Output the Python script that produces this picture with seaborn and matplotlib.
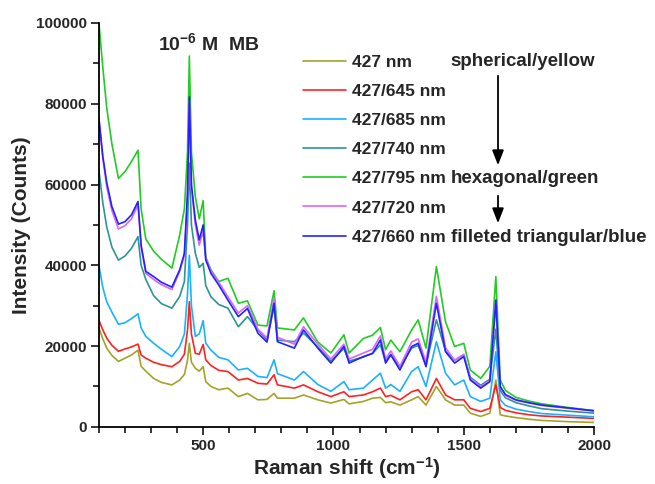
import numpy as np
import pandas as pd
import matplotlib
matplotlib.use('Agg')
import matplotlib.pyplot as plt
import seaborn as sns

# Raman shift positions (cm-1)
shift = [100, 115, 130, 150, 175, 200, 225, 250, 262, 280, 310, 340, 380, 410, 428,
         440, 447, 455, 470, 485, 500, 510, 530, 560, 595, 635, 670, 710, 745, 772,
         785, 850, 885, 940, 990, 1040, 1060, 1115, 1150, 1180, 1200, 1220, 1255, 1300,
         1325, 1355, 1395, 1430, 1465, 1500, 1525, 1565, 1600, 1623, 1640, 1660, 1700,
         1750, 1800, 1900, 2000]

# intensities (counts) for each sample
i_427 = [24500, 21800, 19500, 17700, 16200, 17000, 17800, 19000, 15000, 13800, 12000, 11000,
         10400, 11600, 13000, 16500, 20700, 16000, 14500, 13800, 14900, 11200, 10000, 9200,
         9600, 7500, 8300, 6700, 6800, 8300, 7100, 7100, 7900, 6700, 5900, 6800, 5700, 6300,
         7100, 7300, 6000, 6200, 5400, 6700, 7500, 5400, 10000, 6700, 5400, 5400, 3400, 2600,
         3400, 11600, 3000, 2700, 2300, 1900, 1600, 1300, 1100]
i_645 = [26400, 24000, 22000, 20200, 18700, 19300, 19800, 20500, 17800, 17000, 16000, 15400,
         14900, 16200, 18000, 24000, 31000, 23000, 18200, 18000, 20400, 16600, 15200, 14000,
         13700, 11600, 12000, 10800, 10600, 12900, 10400, 9600, 10400, 8700, 7500, 8700, 7500,
         7900, 8700, 9600, 7500, 7800, 6700, 8700, 9200, 6700, 12000, 7900, 6700, 6700, 4600,
         3800, 4600, 10400, 4800, 4100, 3500, 3000, 2700, 2400, 2100]
i_685 = [40000, 34500, 31000, 28400, 25400, 25800, 26800, 28000, 24500, 22400, 20700, 19200,
         17400, 19900, 23000, 33000, 42500, 30000, 22400, 23000, 26300, 20700, 19000, 17200,
         16600, 14100, 14500, 12500, 12200, 16600, 13200, 11600, 13700, 10500, 8800, 11200,
         9200, 9600, 11600, 13300, 9600, 10500, 8800, 13700, 14900, 10000, 21100, 13300, 10400,
         11600, 7500, 6300, 7100, 18600, 6700, 5300, 4400, 3800, 3300, 2900, 2500]
i_740 = [63600, 55500, 49500, 44500, 41300, 42300, 44200, 47100, 40000, 36500, 32500, 30500,
         29400, 32300, 36000, 50000, 65300, 50000, 43000, 39500, 40500, 35000, 32200, 30300,
         29400, 24800, 27300, 24000, 21500, 29800, 21500, 21100, 23200, 19800, 16300, 19400,
         16300, 17300, 18200, 20300, 16300, 18000, 14800, 19500, 20200, 15300, 26500, 18800,
         16500, 17800, 12300, 10300, 11800, 24200, 9000, 7200, 6000, 5200, 4500, 3900, 3400]
i_795 = [100000, 89000, 79000, 70000, 61500, 63200, 65700, 68500, 54000, 46500, 43500, 41500,
         39300, 47500, 54000, 68000, 91800, 68000, 57000, 51500, 56000, 42000, 38900, 36000,
         36800, 30600, 31200, 25200, 25000, 33700, 24500, 24000, 27000, 21000, 18300, 22800,
         18300, 21900, 22700, 24600, 19100, 21500, 18600, 24000, 26500, 19500, 39700, 26000,
         19900, 20700, 14100, 12000, 15000, 37200, 11600, 9000, 7300, 6400, 5700, 4800, 4000]
i_720 = [76000, 66500, 59500, 53500, 49000, 49800, 51500, 55000, 44500, 38000, 36500, 35200,
         34000, 38500, 42500, 57000, 80500, 59000, 50000, 45000, 48500, 41800, 38600, 35800,
         32200, 28200, 30000, 24200, 22000, 31800, 22200, 20500, 24800, 20500, 16800, 20500,
         16800, 18300, 19200, 22500, 16800, 18800, 15000, 21000, 21800, 16000, 32300, 19600,
         16500, 18000, 12000, 9900, 11500, 30500, 9800, 7800, 6600, 5900, 5300, 4600, 3900]
i_660 = [76500, 67000, 60500, 54500, 50200, 50800, 52500, 55800, 45000, 38500, 37200, 35800,
         34600, 38900, 43000, 58000, 81700, 60000, 51200, 46300, 50000, 41300, 38000, 35100,
         31400, 27300, 29300, 23200, 21000, 30600, 21100, 19500, 24000, 19500, 15800, 19900,
         15800, 17400, 18200, 21500, 15800, 17800, 14100, 19900, 20700, 14900, 30600, 18600,
         15800, 17400, 11600, 9600, 11200, 31400, 10000, 8000, 6700, 6000, 5400, 4700, 4000]

labels = ['427 nm', '427/645 nm', '427/685 nm', '427/740 nm', '427/795 nm', '427/720 nm', '427/660 nm']
series = [i_427, i_645, i_685, i_740, i_795, i_720, i_660]
colors = ['#a3a32a', '#ff2222', '#1ab2ff', '#2e9494', '#22cc22', '#d966ff', '#2222ff']

frames = []
for lab, vals in zip(labels, series):
    frames.append(pd.DataFrame({'shift': shift, 'intensity': vals, 'sample': lab}))
df = pd.concat(frames, ignore_index=True)

sns.set_style('ticks')
plt.rcParams['font.family'] = ['Liberation Sans', 'DejaVu Sans']
plt.rcParams['mathtext.fontset'] = 'custom'
plt.rcParams['mathtext.rm'] = 'Liberation Sans:bold'
plt.rcParams['mathtext.bf'] = 'Liberation Sans:bold'
plt.rcParams['mathtext.default'] = 'bf'

fig = plt.figure(figsize=(6.55, 4.84), dpi=100)
ax = fig.add_axes([0.151, 0.118, 0.756, 0.8345])

sns.lineplot(data=df, x='shift', y='intensity', hue='sample', hue_order=labels,
             palette=dict(zip(labels, colors)), sort=False, estimator=None,
             linewidth=1.2, ax=ax)

ax.set_xlim(100, 2000)
ax.set_ylim(0, 100000)
ax.set_xticks([500, 1000, 1500, 2000])
ax.set_xticks(np.arange(100, 2001, 100), minor=True)
ax.set_yticks(np.arange(0, 100001, 20000))
ax.set_yticks(np.arange(0, 100001, 10000), minor=True)
ax.tick_params(axis='both', which='major', direction='out', length=5.5, width=1.1,
               labelsize=11, pad=3, color='black')
ax.tick_params(axis='both', which='minor', direction='out', length=4, width=1.1, color='black')
for t in ax.get_xticklabels() + ax.get_yticklabels():
    t.set_fontweight('bold')

sns.despine(ax=ax)
for s in ['left', 'bottom']:
    ax.spines[s].set_linewidth(1.3)
    ax.spines[s].set_color('black')

ax.set_xlabel('Raman shift (cm$^{-1}$)', fontsize=15, fontweight='bold', labelpad=2)
ax.set_ylabel('Intensity (Counts)', fontsize=15, fontweight='bold', labelpad=4)

# legend without frame
ax.legend(loc='upper left', bbox_to_anchor=(0.4626, 0.886), bbox_transform=fig.transFigure,
          frameon=False, prop={'weight': 'bold', 'size': 12.5}, handlelength=2.5,
          handletextpad=0.35, labelspacing=0.8, borderpad=0, borderaxespad=0)

fig.text(0.241, 0.897, r'10$^{-6}$ M  MB', fontsize=14, fontweight='bold', ha='left', va='baseline')

fig.text(0.688, 0.8636, 'spherical/yellow', fontsize=13.5, fontweight='bold', va='baseline')
fig.text(0.688, 0.6213, 'hexagonal/green', fontsize=13.5, fontweight='bold', va='baseline')
fig.text(0.688, 0.5007, 'filleted triangular/blue', fontsize=13.5, fontweight='bold', va='baseline')

arrow_kw = dict(arrowstyle='-|>,head_length=0.9,head_width=0.35', color='black', lw=1.3)
ax.annotate('', xy=(498 / 655, 1 - 168 / 484), xytext=(498 / 655, 1 - 73 / 484),
            xycoords='figure fraction', textcoords='figure fraction', arrowprops=arrow_kw)
ax.annotate('', xy=(498 / 655, 1 - 226 / 484), xytext=(498 / 655, 1 - 193 / 484),
            xycoords='figure fraction', textcoords='figure fraction', arrowprops=arrow_kw)

fig.savefig('out.png', dpi=100)
